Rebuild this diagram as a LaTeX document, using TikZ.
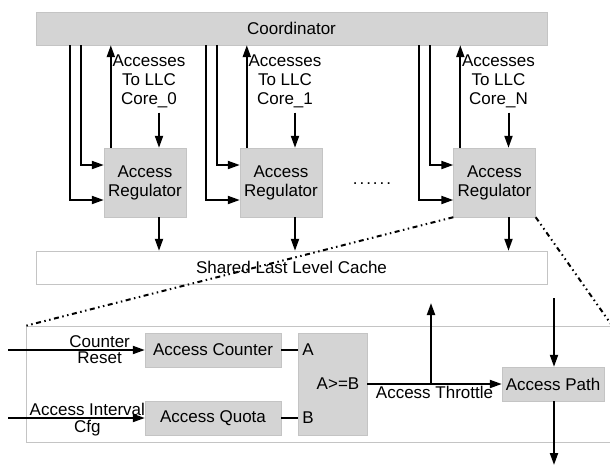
\documentclass[tikz,border=0pt]{standalone}
\usepackage{fontspec}
\setmainfont{Liberation Sans}
\usetikzlibrary{arrows.meta}
\definecolor{boxgray}{RGB}{212,212,212}
\definecolor{edgegray}{RGB}{196,196,196}
\begin{document}
\begin{tikzpicture}[x=1pt,y=-1pt,inner sep=1pt,
    font=\fontsize{17}{19}\selectfont,
    gbox/.style={draw=edgegray,fill=boxgray,inner sep=0pt},
    wbox/.style={draw=edgegray,fill=white,inner sep=0pt},
    arr/.style={line width=2pt,-{Triangle[length=12pt,width=8pt]}},
    wire/.style={line width=2pt},
    zoomline/.style={line width=2pt,dash pattern=on 5pt off 3.5pt on 1.5pt off 3.5pt on 1.5pt off 3.5pt}]

      \useasboundingbox (0,0) rectangle (610,466);

      \node[gbox,minimum width=511pt,minimum height=33pt] (coord) at (291.5,28.5) {Coordinator};
      \node[wbox,minimum width=511pt,minimum height=33pt] (llc) at (291.5,267.5) {Shared Last Level Cache};

      \foreach \n/\x in {0/145,1/281,N/494.5} {
        \node[gbox,minimum width=82pt,minimum height=69pt,align=center] (reg\n) at (\x,182.5) {Access\\Regulator};
        \node[align=center,inner sep=0pt] (lbl\n) at (\x+4,81) {Accesses\\To LLC\\Core\_\n};
        \draw[arr] ([xshift=14pt,yshift=-5pt]reg\n.north |- lbl\n.south) -- ([xshift=14pt]reg\n.north); % accesses in
        \draw[arr] ([xshift=-34pt]reg\n.north west |- coord.south) |- ([yshift=-17.5pt]reg\n.west); % outer feed
        \draw[arr] ([xshift=-23pt]reg\n.north west |- coord.south) |- ([yshift=17.5pt]reg\n.west); % inner feed
        \draw[arr] ([xshift=7pt]reg\n.north west) -- ([xshift=7pt]reg\n.north west |- coord.south); % report
        \draw[arr] ([xshift=14pt]reg\n.south) -- ([xshift=14pt]reg\n.south |- llc.north); % to LLC
      }

      \node (more) at (372,184) {.\kern2pt.\kern2pt.\kern2pt.\kern2pt.\kern2pt.};

      % zoomed regulator
      \node[draw=edgegray,minimum width=586pt,minimum height=116pt,inner sep=0pt] (detail) at (319,384) {};
      \draw[zoomline] (regN.south west) -- (detail.north west);
      \draw[zoomline] (regN.south east) -- (detail.north east);

      \node[gbox,minimum width=136pt,minimum height=34pt] (cnt) at (213,350) {Access Counter};
      \node[gbox,minimum width=136pt,minimum height=34pt] (quota) at (213,418) {Access Quota};
      \node[gbox,minimum width=69pt,minimum height=102pt] (cmp) at (332.5,384) {};
      \node (ina) at (308,350) {A};
      \node (inb) at (308,418) {B};
      \node (ge) at (338,384) {A>=B};
      \node[gbox,minimum width=102pt,minimum height=34pt] (apath) at (553,384) {Access Path};

      \draw[wire] (cnt.east) -- (cnt.east -| cmp.west);
      \draw[wire] (quota.east) -- (quota.east -| cmp.west);

      \coordinate (rst) at (8,350);
      \coordinate (cfg) at (8,418);
      \draw[arr] (rst) -- (cnt.west) node[pos=0.67,above] {Counter} node[pos=0.67,below] {Reset};
      \draw[arr] (cfg) -- (quota.west) node[pos=0.58,above=0pt] {Access Interval} node[pos=0.58,below] {Cfg};

      \draw[arr] (cmp.east) -- (apath.west) node[midway,below] {Access Throttle};
      \coordinate (up) at (431,303);
      \draw[arr] (up |- cmp.east) -- (up); % throttle up
      \coordinate (pin) at (554,298);
      \coordinate (pout) at (554,465);
      \draw[arr] (pin) -- (pin |- apath.north);
      \draw[arr] (apath.south -| pout) -- (pout);

\end{tikzpicture}
\end{document}
